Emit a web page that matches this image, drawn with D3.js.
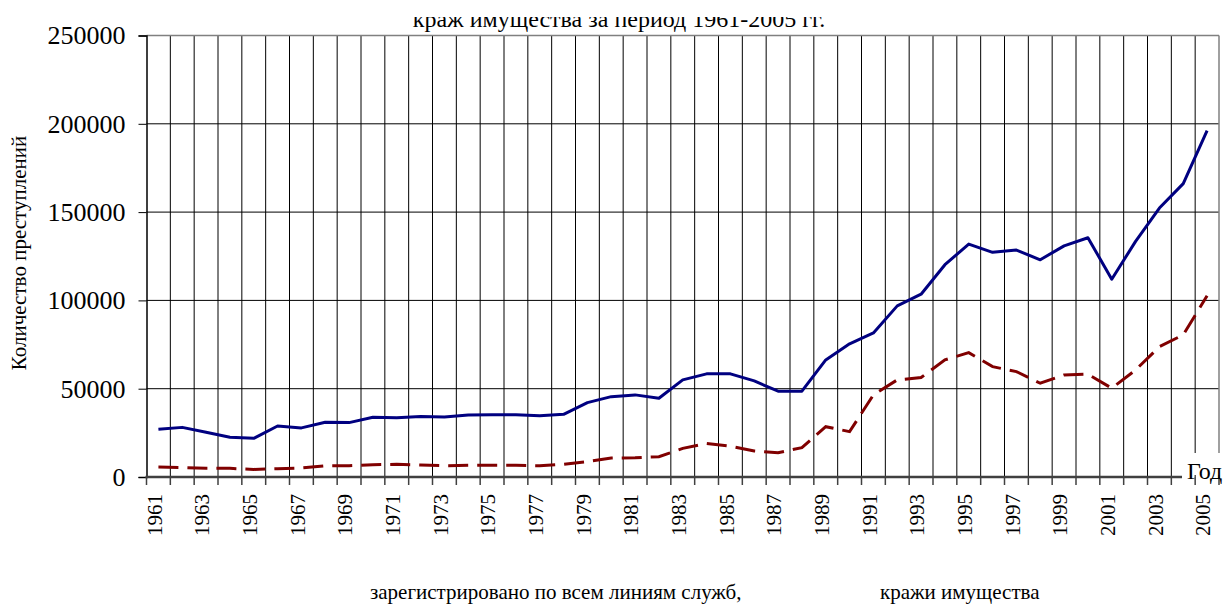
<!DOCTYPE html>
<html>
<head>
<meta charset="utf-8">
<script src="https://cdn.jsdelivr.net/npm/d3@7"></script>
<style>
  body { margin: 0; background: #fff; }
  svg { display: block; font-family: "Liberation Serif", "Times New Roman", serif; }
</style>
</head>
<body>
<div id="chart"></div>
<script>
// Years on the category axis
const years = [1961, 1962, 1963, 1964, 1965, 1966, 1967, 1968, 1969, 1970,
  1971, 1972, 1973, 1974, 1975, 1976, 1977, 1978, 1979, 1980,
  1981, 1982, 1983, 1984, 1985, 1986, 1987, 1988, 1989, 1990,
  1991, 1992, 1993, 1994, 1995, 1996, 1997, 1998, 1999, 2000,
  2001, 2002, 2003, 2004, 2005];

// Registered crimes, all services
const registered = [27000, 28100, 25300, 22500, 21900, 28900, 27800, 31000, 30800, 33800,
  33600, 34200, 34000, 35100, 35300, 35300, 34700, 35500, 42100, 45500,
  46500, 44600, 55000, 58400, 58400, 54400, 48600, 48600, 66300, 75400,
  81600, 96900, 103500, 120200, 131900, 127200, 128500, 123000, 130900, 135500,
  112000, 133400, 152300, 166100, 196100];

// Property thefts
const thefts = [5600, 5400, 4900, 4900, 4300, 4700, 5100, 6400, 6400, 7000,
  7200, 6800, 6400, 6600, 6600, 6600, 6400, 7200, 8700, 10700,
  10900, 11500, 16200, 19000, 17500, 14700, 13800, 16600, 28500, 25700,
  46500, 55000, 56300, 66300, 70400, 62500, 59700, 53100, 57800, 58200,
  50300, 60600, 73800, 80500, 102600];

const yTicks = [0, 50000, 100000, 150000, 200000, 250000];

const titleText = "краж имущества за период 1961-2005 гг.";
const yLabel = "Количество преступлений";
const xLabel = "Год";
const legendNames = ["зарегистрировано по всем линиям служб,", "кражи имущества"];

const W = 1229, H = 606;
const plot = { left: 146.5, right: 1219, top: 35.5, bottom: 477 };

const svg = d3.select("#chart").append("svg")
  .attr("width", W)
  .attr("height", H);

const x = d3.scaleBand()
  .domain(years)
  .range([plot.left, plot.right])
  .padding(0);

const y = d3.scaleLinear()
  .domain([0, 250000])
  .range([plot.bottom, plot.top]);

// Title (only its lower part shows, the top is cut off)
svg.append("clipPath").attr("id", "titleClip")
  .append("rect").attr("x", 0).attr("y", 17).attr("width", W).attr("height", 30);

svg.append("text")
  .attr("clip-path", "url(#titleClip)")
  .attr("x", 619)
  .attr("y", 27)
  .attr("text-anchor", "middle")
  .style("font-size", "24px")
  .text(titleText);

// Vertical gridlines at category boundaries
const bounds = years.slice(1).map(d => x(d));
svg.append("g")
  .selectAll("line")
  .data(bounds)
  .enter().append("line")
  .attr("x1", d => d).attr("x2", d => d)
  .attr("y1", plot.top).attr("y2", plot.bottom)
  .attr("stroke", "#000")
  .attr("stroke-width", 1);

// Horizontal gridlines
svg.append("g")
  .selectAll("line")
  .data(yTicks.slice(1, -1))
  .enter().append("line")
  .attr("x1", plot.left).attr("x2", plot.right)
  .attr("y1", d => y(d)).attr("y2", d => y(d))
  .attr("stroke", "#000")
  .attr("stroke-width", 1);

// Plot border top/right
svg.append("line")
  .attr("x1", plot.left).attr("x2", plot.right)
  .attr("y1", plot.top).attr("y2", plot.top)
  .attr("stroke", "#808080").attr("stroke-width", 1.5);
svg.append("line")
  .attr("x1", plot.right).attr("x2", plot.right)
  .attr("y1", plot.top).attr("y2", plot.bottom)
  .attr("stroke", "#808080").attr("stroke-width", 1.5);

// Y axis
const yAxis = svg.append("g")
  .attr("transform", `translate(${plot.left},0)`)
  .call(d3.axisLeft(y).tickValues(yTicks).tickSize(8).tickPadding(13).tickFormat(d3.format("d")));
yAxis.select(".domain").attr("stroke", "#000").attr("stroke-width", 1.5);
yAxis.selectAll(".tick line").attr("stroke", "#000");
yAxis.selectAll(".tick text")
  .style("font-family", "\"Liberation Serif\", serif")
  .style("font-size", "26px")
  .attr("fill", "#000");

svg.append("text")
  .attr("transform", `translate(26,253) rotate(-90)`)
  .attr("text-anchor", "middle")
  .style("font-size", "21px")
  .text(yLabel);

// X axis: ticks at category boundaries, labels every second year
svg.append("g")
  .selectAll("line")
  .data(years.map(d => x(d)).concat([plot.right]))
  .enter().append("line")
  .attr("x1", d => d).attr("x2", d => d)
  .attr("y1", plot.bottom).attr("y2", plot.bottom + 8)
  .attr("stroke", "#404040")
  .attr("stroke-width", 1.5);

svg.append("g")
  .selectAll("text")
  .data(years.filter((d, i) => i % 2 === 0))
  .enter().append("text")
  .attr("transform", d => `translate(${x(d) + x.bandwidth() / 2 - 4},494) rotate(-90)`)
  .attr("text-anchor", "end")
  .attr("dy", "0.35em")
  .style("font-size", "21px")
  .text(d => d);

// Lines
const line = d3.line()
  .x((d, i) => x(years[i]) + x.bandwidth() / 2)
  .y(d => y(d));

svg.append("path")
  .datum(thefts)
  .attr("fill", "none")
  .attr("stroke", "#800000")
  .attr("stroke-width", 3)
  .attr("stroke-dasharray", "20,9")
  .attr("d", line);

svg.append("path")
  .datum(registered)
  .attr("fill", "none")
  .attr("stroke", "#000080")
  .attr("stroke-width", 3)
  .attr("stroke-linejoin", "round")
  .attr("d", line);

// "Год" label on a white box at the end of the x axis
svg.append("rect")
  .attr("x", 1183).attr("y", 453)
  .attr("width", W - 1183).attr("height", 22)
  .attr("fill", "#fff");

svg.append("line")
  .attr("x1", plot.left - 1).attr("x2", 1182)
  .attr("y1", plot.bottom).attr("y2", plot.bottom)
  .attr("stroke", "#404040").attr("stroke-width", 2.5);

svg.append("text")
  .attr("x", 1187)
  .attr("y", 479)
  .style("font-size", "24px")
  .text(xLabel);

// Legend text
svg.append("text")
  .attr("x", 370).attr("y", 599)
  .style("font-size", "21px")
  .text(legendNames[0]);
svg.append("text")
  .attr("x", 880).attr("y", 599)
  .style("font-size", "21px")
  .text(legendNames[1]);
</script>
</body>
</html>
